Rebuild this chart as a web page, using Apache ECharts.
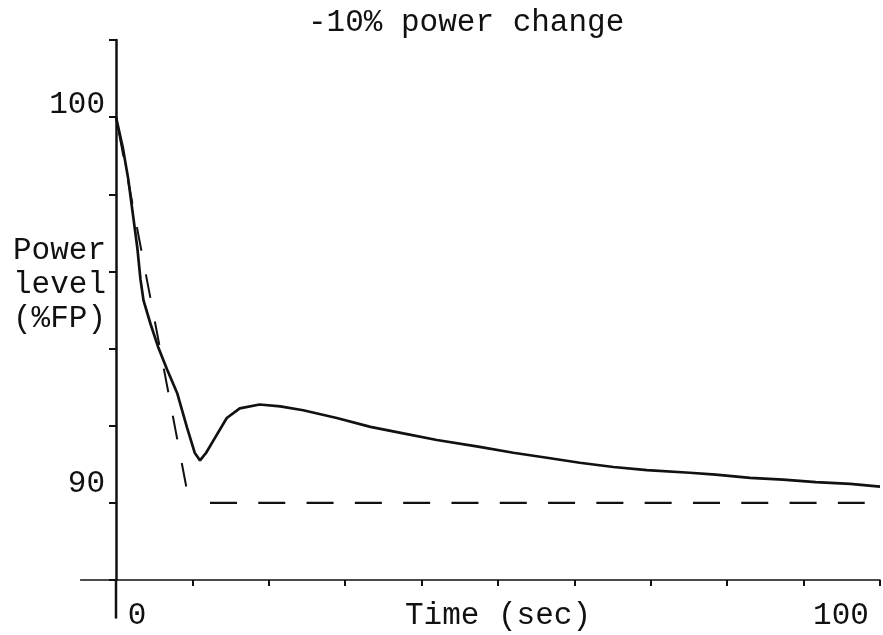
<!DOCTYPE html>
<html>
<head>
<meta charset="utf-8">
<script src="https://cdn.jsdelivr.net/npm/echarts@6/dist/echarts.min.js"></script>
<style>
  html, body { margin: 0; padding: 0; background: #fff; }
  #chart { width: 883px; height: 635px; }
</style>
</head>
<body>
<div id="chart"></div>
<script>
// ---- data ----
const timeSec  = [0, 0.9, 1.6, 2.2, 2.8, 3.2, 3.6, 4.5, 5.5, 6.7, 8.0, 9.3, 10.3, 11.0, 11.8, 12.7, 14.5, 16.2, 18.8, 21.5, 24.5, 28.9, 33.3, 37.6, 42.0, 47.6, 52.0, 56.4, 60.7, 65.1, 69.5, 75.1, 78.5, 83.0, 87.3, 91.6, 96.1, 100];
const powerPct = [100, 99.2, 98.4, 97.5, 96.6, 95.8, 95.25, 94.65, 94.05, 93.45, 92.85, 91.95, 91.3, 91.1, 91.3, 91.6, 92.2, 92.45, 92.55, 92.5, 92.4, 92.2, 91.97, 91.8, 91.63, 91.45, 91.3, 91.17, 91.04, 90.93, 90.85, 90.78, 90.73, 90.65, 90.6, 90.54, 90.49, 90.42];
const rampTime    = [0, 9.6];
const rampPower   = [100, 90];
const targetTime  = [12.3, 98];
const targetPower = [90, 90];
const xLabelValues = [0, 100];
const yLabelValues = [100, 90];
const titleText = '-10% power change';
const xName = 'Time (sec)';
const yNameLines = ['Power', 'level', '(%FP)'];
// axis-line extensions beyond the plotted range (as in the drawing)
const xAxisExtX = [-4.7, 0];
const xAxisExtY = [88, 88];
const yAxisExtX = [0, 0];
const yAxisExtY = [88, 87];

const FONT = 'Liberation Mono';
const FS = 31;
const INK = '#111';
const zip = (a, b) => a.map((v, i) => [v, b[i]]);

const chart = echarts.init(document.getElementById('chart'), null, { renderer: 'canvas' });
chart.setOption({
  backgroundColor: '#fff',
  animation: false,
  title: {
    text: titleText, left: 303, top: 2,
    textStyle: { fontFamily: FONT, fontSize: FS, fontWeight: 'normal', color: INK }
  },
  graphic: [{
    id: 'yname', type: 'text', left: 13, top: 234,
    style: { text: yNameLines.join('\n'), font: FS + 'px "' + FONT + '"', lineHeight: 34, fill: INK }
  }],
  grid: { left: 116, right: 3, top: 40, bottom: 55, containLabel: false, outerBoundsMode: 'none' },
  xAxis: {
    type: 'value', min: 0, max: 100, interval: 10,
    name: xName, nameLocation: 'middle', nameGap: 20, nameMoveOverlap: false,
    nameTextStyle: { fontFamily: FONT, fontSize: FS, color: INK, verticalAlign: 'top' },
    axisLine: { onZero: false, lineStyle: { color: INK, width: 1.5 } },
    axisTick: { inside: false, length: 6, lineStyle: { color: INK, width: 2 } },
    splitLine: { show: false },
    axisLabel: {
      margin: 20, color: INK, fontFamily: FONT, fontSize: FS,
      formatter: v => v === xLabelValues[0] ? '{z|' + v + '}' : (v === xLabelValues[1] ? '{h|' + v + '}' : ''),
      rich: {
        z: { fontFamily: FONT, fontSize: FS, color: INK, padding: [0, 0, 0, 42] },
        h: { fontFamily: FONT, fontSize: FS, color: INK, padding: [0, 78, 0, 0] }
      }
    }
  },
  yAxis: {
    type: 'value', min: 88, max: 102, interval: 2,
    axisLine: { onZero: false, lineStyle: { color: INK, width: 2.5 } },
    axisTick: { inside: false, length: 7, lineStyle: { color: INK, width: 2 } },
    splitLine: { show: false },
    axisLabel: {
      margin: 11, color: INK, fontFamily: FONT, fontSize: FS,
      formatter: v => v === yLabelValues[0] ? '{a|' + v + '}' : (v === yLabelValues[1] ? '{b|' + v + '}' : ''),
      rich: {
        a: { fontFamily: FONT, fontSize: FS, color: INK, padding: [0, 0, 24, 0] },
        b: { fontFamily: FONT, fontSize: FS, color: INK, padding: [0, 0, 38, 0] }
      }
    }
  },
  series: [
    {
      name: 'response', type: 'line', data: zip(timeSec, powerPct),
      showSymbol: false, smooth: false, clip: false,
      lineStyle: { color: INK, width: 2.7 }
    },
    {
      name: 'ramp', type: 'line', data: zip(rampTime, rampPower),
      showSymbol: false, clip: false,
      lineStyle: { color: INK, width: 2, type: [24, 24], dashOffset: 32 }
    },
    {
      name: 'target', type: 'line', data: zip(targetTime, targetPower),
      showSymbol: false, clip: false,
      lineStyle: { color: INK, width: 2.2, type: [27, 21.3] }
    }
  ]
});

// axis-line extensions, positioned through the chart's own scales
const toPx = (xs, ys) => zip(xs, ys).map(p => chart.convertToPixel({ gridIndex: 0 }, p));
const xe = toPx(xAxisExtX, xAxisExtY);
const ye = toPx(yAxisExtX, yAxisExtY);
chart.setOption({
  graphic: [
    { id: 'xext', type: 'polyline', shape: { points: xe }, style: { stroke: INK, lineWidth: 1.5, fill: null } },
    { id: 'yext', type: 'polyline', shape: { points: ye }, style: { stroke: INK, lineWidth: 2.5, fill: null } }
  ]
});
</script>
</body>
</html>
